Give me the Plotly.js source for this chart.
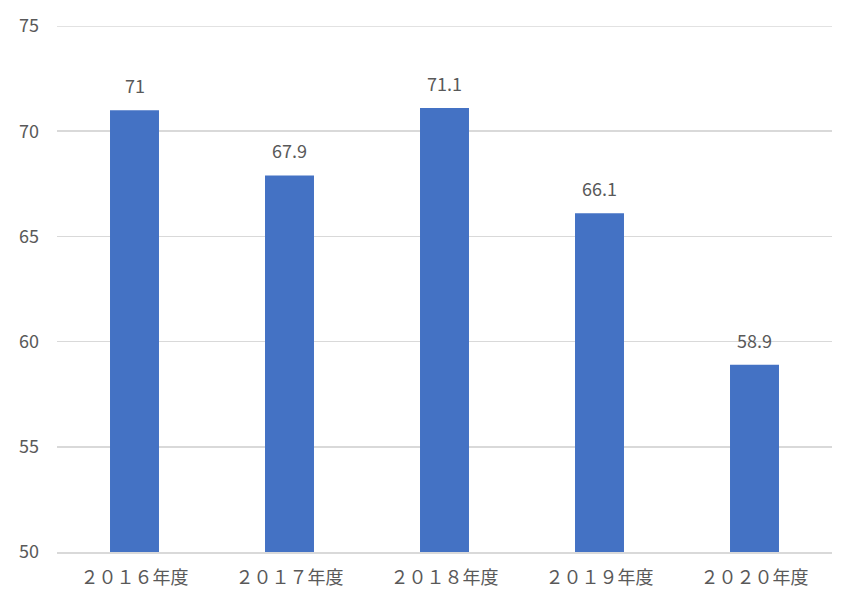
<!DOCTYPE html>
<html>
<head>
<meta charset="utf-8">
<script src="https://cdn.plot.ly/plotly-3.0.1.min.js"></script>
<style>html,body{margin:0;padding:0;background:#fff;}#chart{width:850px;height:604px;}</style>
</head>
<body>
<div id="chart"></div>
<script>
const categories = ['２０１６年度', '２０１７年度', '２０１８年度', '２０１９年度', '２０２０年度'];
const values = [71, 67.9, 71.1, 66.1, 58.9];
const yTickVals = [50, 55, 60, 65, 70, 75];

const fontFamily = '"Noto Sans CJK JP", "Noto Sans", sans-serif';
const textColor = '#595959';

const trace = {
  type: 'bar',
  x: categories,
  y: values,
  marker: {color: '#4472C4'},
  hoverinfo: 'x+y'
};

const annotations = categories.map((c, i) => ({
  x: c,
  y: values[i],
  xref: 'x',
  yref: 'y',
  text: String(values[i]),
  showarrow: false,
  yanchor: 'bottom',
  yshift: 10,
  font: {family: fontFamily, size: 18, color: textColor}
}));

const layout = {
  width: 850,
  height: 604,
  margin: {l: 57, r: 18, t: 26, b: 52},
  paper_bgcolor: '#fff',
  plot_bgcolor: '#fff',
  showlegend: false,
  bargap: 0.684,
  font: {family: fontFamily, size: 18, color: textColor},
  xaxis: {
    type: 'category',
    showline: true,
    linecolor: '#d9d9d9',
    linewidth: 1.5,
    showgrid: false,
    ticks: '',
    ticklabelstandoff: 9,
    tickfont: {family: fontFamily, size: 18, color: textColor}
  },
  yaxis: {
    range: [50, 75],
    tickvals: yTickVals,
    showgrid: true,
    gridcolor: '#d9d9d9',
    gridwidth: 1.5,
    zeroline: false,
    showline: false,
    ticks: '',
    ticklabelstandoff: 17,
    tickfont: {family: fontFamily, size: 18, color: textColor}
  },
  shapes: [{
    type: 'line', xref: 'paper', yref: 'y', x0: 0, x1: 1, y0: 75, y1: 75,
    line: {color: '#d9d9d9', width: 1.5}, layer: 'below'
  }],
  annotations: annotations
};

Plotly.newPlot('chart', [trace], layout, {displayModeBar: false, staticPlot: true});
</script>
</body>
</html>
